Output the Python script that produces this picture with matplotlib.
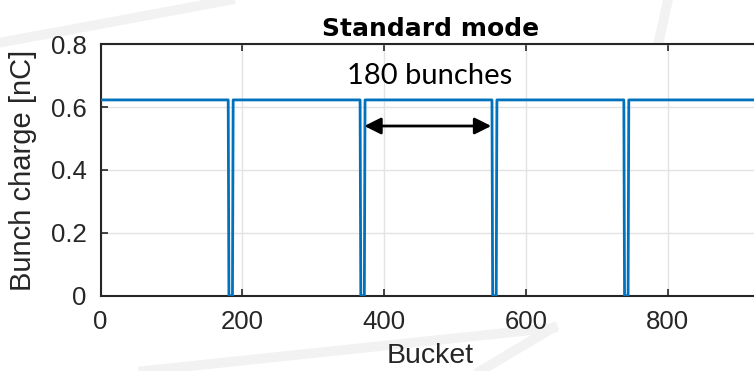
import numpy as np
import matplotlib
matplotlib.use("Agg")
import matplotlib.pyplot as plt
from matplotlib.lines import Line2D

# Fill pattern: five trains of 180 bunches separated by short empty gaps
train_first = [1, 187, 373, 559, 745]
train_last = [180, 366, 552, 738, 924]
bunch_charge = 0.623          # nC
n_buckets = 930

x_ticks = [0, 200, 400, 600, 800]
y_ticks = [0, 0.2, 0.4, 0.6, 0.8]
y_tick_labels = ["0", "0.2", "0.4", "0.6", "0.8"]

arrow_from, arrow_to, arrow_y = 372, 551, 0.54
label_text = "180 bunches"
label_x, label_y = 464, 0.70

buckets = np.arange(1, n_buckets + 1)
charge = np.zeros(n_buckets)
for a, b in zip(train_first, train_last):
    charge[a - 1:b] = bunch_charge

plt.rcParams["font.family"] = ["Liberation Sans", "DejaVu Sans"]

fig = plt.figure(figsize=(7.54, 3.71), dpi=100)

# faint background swooshes
for xs, ys in [([0.0, 0.305], [0.885, 1.0]),
               ([0.886, 0.855], [1.0, 0.72]),
               ([0.19, 0.733], [0.0, 0.116]),
               ([0.733, 0.637], [0.116, 0.0])]:
    fig.add_artist(Line2D(xs, ys, transform=fig.transFigure,
                          color="#f2f2f2", lw=7, zorder=0))

ax = fig.add_axes([0.1334, 0.203, 0.8745, 0.6776])
ax.set_facecolor("white")
ax.plot(buckets, charge, color="#0072BD", lw=2.0, zorder=3, clip_on=True)

ax.set_xlim(0, n_buckets)
ax.set_ylim(0, 0.8)
ax.set_xticks(x_ticks)
ax.set_yticks(y_ticks)
ax.set_yticklabels(y_tick_labels)
ax.grid(True, color="#e3e3e3", lw=1.0)
ax.set_axisbelow(True)

ax.tick_params(axis="both", direction="in", length=5, width=1.2,
               labelsize=18.5, colors="#262626", top=True, pad=10)
for s in ["left", "bottom", "top"]:
    ax.spines[s].set_color("#262626")
    ax.spines[s].set_linewidth(1.5)
ax.spines["right"].set_visible(False)

ax.set_xlabel("Bucket", fontsize=20.5, color="#262626", labelpad=6.5)
ax.set_ylabel("Bunch charge [nC]", fontsize=21, color="#262626")
ax.yaxis.set_label_coords(-0.096, 0.5)
ax.set_title("Standard mode", fontsize=18, fontweight="bold",
             family=["DejaVu Sans"], pad=6)

ax.annotate("", xy=(arrow_to, arrow_y), xytext=(arrow_from, arrow_y),
            arrowprops=dict(arrowstyle="<|-|>", color="black", lw=2,
                            mutation_scale=25, shrinkA=0, shrinkB=0))
ax.text(label_x, label_y, label_text, fontsize=21, family=["Lato", "DejaVu Sans"],
        ha="center", va="center", color="black")

fig.savefig("out.png", dpi=100)
